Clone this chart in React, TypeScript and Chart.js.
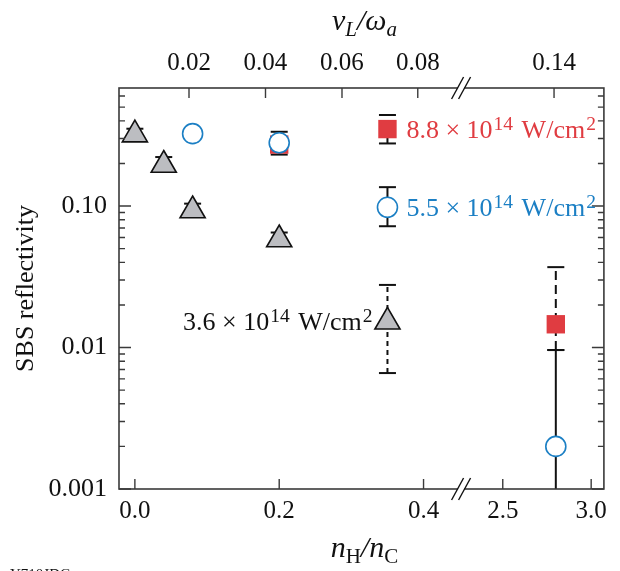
import React, { useEffect, useRef } from 'react';
import { Chart, registerables } from 'chart.js';

Chart.register(...registerables);

// ---- data (x = nH/nC, y = SBS reflectivity) ----
const triX = [0, 0.04, 0.08, 0.2, 0.35];
const triY = [0.32, 0.195, 0.093, 0.058, 0.0152];
const triHi = [0.352, 0.222, 0.104, 0.065, 0.0277];
const triLo = [0.297, 0.18, 0.086, 0.054, 0.0066];

const circX = [0.08, 0.2, 0.35, 2.8];
const circY = [0.325, 0.28, 0.098, 0.002];
const circHi: (number | null)[] = [null, 0.335, 0.136, 0.0096];
const circLo: (number | null)[] = [null, 0.231, 0.072, 0.0004];

const sqX = [0.2, 0.35, 2.8];
const sqY = [0.272, 0.35, 0.0146];
const sqHi: (number | null)[] = [null, 0.44, 0.037];
const sqLo: (number | null)[] = [null, 0.277, 0.0096];

const intensityMantissa = ['3.6', '5.5', '8.8'];
const intensityExponent = '14';

const bottomTicks = [0, 0.2, 0.4, 2.5, 3.0];
const bottomTickLabels = ['0.0', '0.2', '0.4', '2.5', '3.0'];
const topTickPositions = [0.075, 0.181, 0.287, 0.392, 2.79];
const topTickLabels = ['0.02', '0.04', '0.06', '0.08', '0.14'];
const yTicks = [0.001, 0.01, 0.1];
const yTickLabels = ['0.001', '0.01', '0.10'];

// ---- broken x axis mapping ----
const X_MIN = -0.022;
const BREAK_L = 0.45;
const BREAK_R = 2.256;
const X_MAX = 3.072;
const K = 0.245;
const u = (x: number) => (x <= BREAK_L ? x : BREAK_L + (x - BREAK_R) * K);
const U_MAX = u(X_MAX);
const BREAK_U = 0.452;

const SERIF = "'Liberation Serif', 'Times New Roman', serif";
const RED = '#e03c41';
const BLUE = '#1b7fc4';
const GRAY = '#bcbdc1';
const AXIS = '#3a3a3a';

type Part = { t: string; size: number; italic?: boolean; dy?: number; gap?: number };

function drawRich(ctx: CanvasRenderingContext2D, parts: Part[], x: number, baseline: number, align: string, color: string) {
  const font = (p: Part) => `${p.italic ? 'italic ' : ''}${p.size}px ${SERIF}`;
  const widths = parts.map((p) => {
    ctx.font = font(p);
    return ctx.measureText(p.t).width + (p.gap || 0);
  });
  const total = widths.reduce((a, b) => a + b, 0);
  let cx = align === 'left' ? x : align === 'right' ? x - total : x - total / 2;
  ctx.fillStyle = color;
  ctx.textAlign = 'left';
  ctx.textBaseline = 'alphabetic';
  parts.forEach((p, i) => {
    ctx.font = font(p);
    ctx.fillText(p.t, cx, baseline + (p.dy || 0));
    cx += widths[i];
  });
}

function intensityParts(m: string): Part[] {
  return [
    { t: `${m} × 10`, size: 26, gap: 1 },
    { t: intensityExponent, size: 19.5, dy: -8, gap: 2 },
    { t: ' W/cm', size: 26, gap: 1 },
    { t: '2', size: 19.5, dy: -8 },
  ];
}

const overlay = {
  id: 'overlay',
  beforeDatasetsDraw(chart: any) {
    const { ctx, chartArea: a, scales } = chart;
    const xs = scales.x;
    const ys = scales.y;
    ctx.save();
    ctx.beginPath();
    ctx.rect(a.left, a.top, a.right - a.left, a.bottom - a.top);
    ctx.clip();
    const bars = (X: number[], hi: (number | null)[], lo: (number | null)[], dash: number[]) => {
      X.forEach((xv, i) => {
        const h = hi[i];
        const l = lo[i];
        if (h == null || l == null) return;
        const px = xs.getPixelForValue(u(xv));
        const yh = ys.getPixelForValue(h);
        const yl = ys.getPixelForValue(l);
        ctx.strokeStyle = '#111';
        ctx.lineWidth = 2;
        ctx.setLineDash(dash);
        ctx.beginPath();
        ctx.moveTo(px, yl);
        ctx.lineTo(px, yh);
        ctx.stroke();
        ctx.setLineDash([]);
        ctx.lineWidth = 2;
        [yh, yl].forEach((yy) => {
          if (yy >= a.top && yy <= a.bottom - 1) {
            ctx.beginPath();
            ctx.moveTo(px - 8.5, yy);
            ctx.lineTo(px + 8.5, yy);
            ctx.stroke();
          }
        });
      });
    };
    bars(triX, triHi, triLo, [5, 4]);
    bars(circX, circHi, circLo, []);
    bars(sqX, sqHi, sqLo, [9, 5]);
    ctx.restore();
  },
  afterDatasetsDraw(chart: any) {
    const { ctx, chartArea: a, scales } = chart;
    const xs = scales.x;
    const ys = scales.y;
    ctx.save();
    // frame
    ctx.strokeStyle = AXIS;
    ctx.lineWidth = 1.6;
    ctx.strokeRect(a.left, a.top, a.right - a.left, a.bottom - a.top);
    // x ticks inward
    ctx.lineWidth = 1.4;
    bottomTicks.forEach((v) => {
      const px = xs.getPixelForValue(u(v));
      ctx.beginPath();
      ctx.moveTo(px, a.bottom);
      ctx.lineTo(px, a.bottom - 10);
      ctx.stroke();
    });
    topTickPositions.forEach((v) => {
      const px = xs.getPixelForValue(u(v));
      ctx.beginPath();
      ctx.moveTo(px, a.top);
      ctx.lineTo(px, a.top + 10);
      ctx.stroke();
    });
    // y ticks (major + minor) on both sides
    for (let e = -3; e <= 0; e++) {
      for (let m = 1; m <= 9; m++) {
        const v = m * Math.pow(10, e);
        if (v < ys.min * 0.999 || v > ys.max) continue;
        const py = ys.getPixelForValue(v);
        const len = m === 1 ? 12 : 6;
        ctx.beginPath();
        ctx.moveTo(a.left, py);
        ctx.lineTo(a.left + len, py);
        ctx.moveTo(a.right, py);
        ctx.lineTo(a.right - len, py);
        ctx.stroke();
      }
    }
    // axis breaks
    const bx = xs.getPixelForValue(BREAK_U);
    [a.top, a.bottom].forEach((yy) => {
      ctx.fillStyle = '#fff';
      ctx.fillRect(bx - 3, yy - 2, 6, 4);
      ctx.strokeStyle = '#111';
      ctx.lineWidth = 1.4;
      [-3.5, 3.5].forEach((o) => {
        ctx.beginPath();
        ctx.moveTo(bx + o - 6, yy + 11);
        ctx.lineTo(bx + o + 6, yy - 11);
        ctx.stroke();
      });
    });
    // series labels
    const lx = xs.getPixelForValue(u(0.35));
    drawRich(ctx, intensityParts(intensityMantissa[2]), lx + 19, ys.getPixelForValue(sqY[1]) + 8.5, 'left', RED);
    drawRich(ctx, intensityParts(intensityMantissa[1]), lx + 19, ys.getPixelForValue(circY[2]) + 8.5, 'left', BLUE);
    drawRich(ctx, intensityParts(intensityMantissa[0]), lx - 15, ys.getPixelForValue(triY[4]) + 8.5, 'right', '#111');
    // axis titles
    const cx = (a.left + a.right) / 2 + 3;
    drawRich(
      ctx,
      [
        { t: 'ν', size: 30, italic: true },
        { t: 'L', size: 21, italic: true, dy: 6 },
        { t: '/ω', size: 30, italic: true },
        { t: 'a', size: 21, italic: true, dy: 6 },
      ],
      cx,
      30,
      'center',
      '#111'
    );
    drawRich(
      ctx,
      [
        { t: 'n', size: 30, italic: true },
        { t: 'H', size: 21, dy: 6 },
        { t: '/', size: 30, italic: true },
        { t: 'n', size: 30, italic: true },
        { t: 'C', size: 21, dy: 6 },
      ],
      cx,
      557,
      'center',
      '#111'
    );
    drawRich(ctx, [{ t: 'Y710JDG', size: 15 }], 10, 579, 'left', '#111');
    ctx.restore();
  },
};

export default function App() {
  const ref = useRef<HTMLCanvasElement | null>(null);
  useEffect(() => {
    if (!ref.current) return;
    const tickFont = { family: SERIF, size: 25 };
    const chart = new Chart(ref.current, {
      type: 'scatter',
      data: {
        datasets: [
          {
            label: `${intensityMantissa[1]} × 10^14 W/cm^2`,
            data: circX.map((x, i) => ({ x: u(x), y: circY[i] })),
            pointStyle: 'circle',
            pointRadius: 10,
            pointBorderWidth: 1.6,
            pointBackgroundColor: '#ffffff',
            pointBorderColor: BLUE,
            showLine: false,
          },
          {
            label: `${intensityMantissa[2]} × 10^14 W/cm^2`,
            data: sqX.map((x, i) => ({ x: u(x), y: sqY[i] })),
            pointStyle: 'rect',
            pointRadius: 13,
            pointBorderWidth: 0,
            pointBackgroundColor: RED,
            pointBorderColor: RED,
            showLine: false,
          },
          {
            label: `${intensityMantissa[0]} × 10^14 W/cm^2`,
            data: triX.map((x, i) => ({ x: u(x), y: triY[i] })),
            pointStyle: 'triangle',
            pointRadius: 14.5,
            pointBorderWidth: 1.6,
            pointBackgroundColor: GRAY,
            pointBorderColor: '#111',
            showLine: false,
          },
        ],
      },
      options: {
        animation: false,
        responsive: false,
        events: [],
        layout: { padding: { left: 0, right: 7, top: 0, bottom: 0 } },
        plugins: { legend: { display: false }, tooltip: { enabled: false } },
        scales: {
          x: {
            type: 'linear',
            position: 'bottom',
            min: X_MIN,
            max: U_MAX,
            grid: { display: false, drawTicks: false },
            border: { display: false },
            afterBuildTicks: (s: any) => {
              s.ticks = bottomTicks.map((v) => ({ value: u(v) }));
            },
            ticks: {
              callback: (_v: any, i: number) => bottomTickLabels[i],
              font: tickFont,
              color: '#111',
              padding: 7,
              maxRotation: 0,
              autoSkip: false,
            },
            afterFit: (s: any) => {
              s.height = 82;
            },
          },
          x2: {
            type: 'linear',
            position: 'top',
            min: X_MIN,
            max: U_MAX,
            grid: { display: false, drawTicks: false },
            border: { display: false },
            afterBuildTicks: (s: any) => {
              s.ticks = topTickPositions.map((v) => ({ value: u(v) }));
            },
            ticks: {
              callback: (_v: any, i: number) => topTickLabels[i],
              font: tickFont,
              color: '#111',
              padding: 10,
              maxRotation: 0,
              autoSkip: false,
            },
            afterFit: (s: any) => {
              s.height = 88;
            },
          },
          y: {
            type: 'logarithmic',
            position: 'left',
            min: 0.001,
            max: 0.683,
            grid: { display: false, drawTicks: false },
            border: { display: false },
            afterBuildTicks: (s: any) => {
              s.ticks = yTicks.map((v) => ({ value: v }));
            },
            ticks: {
              callback: (_v: any, i: number) => yTickLabels[i],
              font: { family: SERIF, size: 26 },
              color: '#111',
              padding: 12,
              autoSkip: false,
            },
            title: {
              display: true,
              text: 'SBS reflectivity',
              font: { family: SERIF, size: 26 },
              color: '#111',
              padding: { top: 11, bottom: 0 },
            },
            afterFit: (s: any) => {
              s.width = 119;
            },
          },
        },
      },
      plugins: [overlay],
    } as any);
    return () => chart.destroy();
  }, []);
  return (
    <div style={{ position: 'fixed', left: 0, top: 0, width: 620, height: 571, background: '#fff' }}>
      <canvas ref={ref} width={620} height={571} style={{ display: 'block', width: 620, height: 571 }} />
    </div>
  );
}
